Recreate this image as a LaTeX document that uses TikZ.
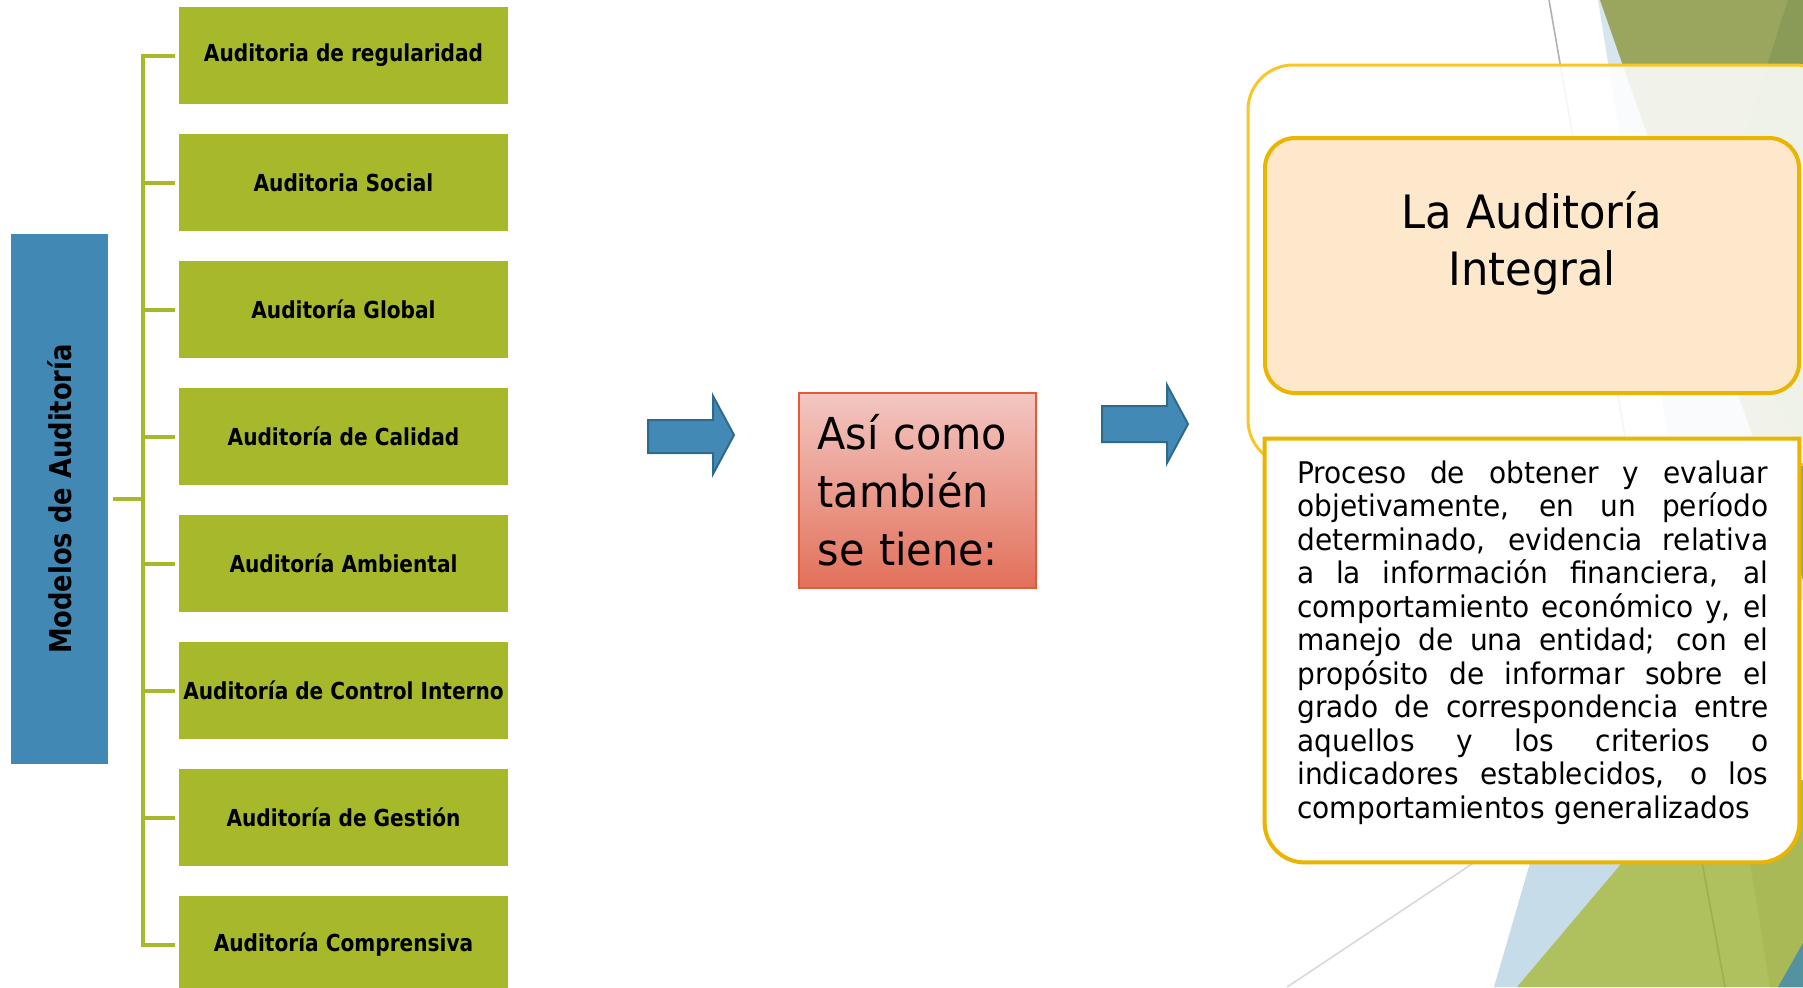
\documentclass[tikz,border=0pt]{standalone}
\usepackage{fontspec}
\setmainfont{DejaVu Sans}[FakeStretch=0.94]
\newfontfamily\labelfont{DejaVu Sans}[FakeStretch=0.86]
\usepackage{graphicx}
\usepackage{tikz}
\usetikzlibrary{positioning}

\definecolor{modgreen}{RGB}{167,184,42}
\definecolor{modblue}{RGB}{65,137,180}
\definecolor{arrowblue}{RGB}{66,138,181}
\definecolor{arrowedge}{RGB}{46,106,142}
\definecolor{midtop}{RGB}{243,199,194}
\definecolor{midbottom}{RGB}{226,112,90}
\definecolor{midedge}{RGB}{228,90,52}
\definecolor{peach}{RGB}{253,232,203}
\definecolor{gold}{RGB}{235,180,0}
\definecolor{framegold}{RGB}{247,199,40}
\definecolor{facetblue}{RGB}{214,229,238}
\definecolor{facetolive}{RGB}{154,165,94}
\definecolor{facetdark}{RGB}{138,155,87}
\definecolor{facetblue2}{RGB}{198,220,232}
\definecolor{facetlime}{RGB}{175,192,94}
\definecolor{facetlime2}{RGB}{168,185,85}
\definecolor{facetline}{RGB}{157,174,78}
\definecolor{facetteal}{RGB}{85,146,160}

\newcommand{\fullline}[1]{\makebox[235.5pt][s]{\spaceskip=0.25em plus 1fil\relax#1}}

\begin{document}
\begin{tikzpicture}[x=0.5pt,y=-0.5pt,
	modbox/.style={rectangle, fill=modgreen, minimum width=164.5pt, minimum height=48.5pt,
	               inner sep=0pt, font=\labelfont\fontsize{11.7}{14}\selectfont\bfseries},
	bracket/.style={draw=modgreen, line width=2pt},
	blockarrow/.style={fill=arrowblue, draw=arrowedge, line width=1pt}]

	\fill[white] (0,0) rectangle (1803,987);
	\useasboundingbox (0,0) rectangle (1803,987);
	\clip (0,0) rectangle (1803,987);

	% facets of the slide background
	\fill[facetblue] (1598,0) -- (1803,0) -- (1803,600) -- (1694,600) -- cycle;
	\fill[facetolive] (1600,0) -- (1803,0) -- (1803,580) -- cycle;
	\fill[facetdark] (1788,0) -- (1803,0) -- (1803,450) -- (1700,275) -- cycle;
	\draw[black!30, line width=0.8pt] (1549,0) -- (1630,465);
	\fill[facetblue2] (1554,780) -- (1803,780) -- (1803,987) -- (1494,987) -- cycle;
	\fill[facetlime] (1692,780) -- (1803,780) -- (1803,987) -- (1517,987) -- cycle;
	\fill[facetlime2] (1737,780) -- (1803,780) -- (1803,987) -- (1770,987) -- cycle;
	\draw[facetline, line width=0.75pt] (1687,780) -- (1725,987);
	\fill[facetteal] (1803,943) -- (1803,987) -- (1778,987) -- cycle;
	\draw[black!15, line width=0.8pt] (1598,780) -- (1287,987);

	\node[fill=modblue, minimum width=48.5pt, minimum height=265pt, inner sep=0pt,
	      font=\labelfont\fontsize{15}{17}\selectfont\bfseries] (models) at (59.5,499)
	      {\rotatebox{90}{Modelos de Auditoría}};

	\foreach \name [count=\i from 0] in {Auditoria de regularidad, Auditoria Social,
	    Auditoría Global, Auditoría de Calidad, Auditoría Ambiental,
	    Auditoría de Control Interno, Auditoría de Gestión, Auditoría Comprensiva}
	    {\node[modbox] (m\i) at (343.5,55.5+127*\i) {\name};}

	\coordinate (root) at (143,499);
	\draw[bracket] ([xshift=2.5pt]models.east) -- (root);
	\foreach \i in {0,...,7} {\draw[bracket] (root) |- ([xshift=-2pt]m\i.west);}

	\draw[blockarrow] (648,420) -- (713,420) -- (713,396) -- (734,435) -- (713,474)
	    -- (713,453) -- (648,453) -- cycle;

	\node[draw=midedge, line width=1pt, top color=midtop, bottom color=midbottom,
	      minimum width=118.5pt, minimum height=97.5pt, text width=100pt,
	      inner xsep=9.25pt, align=left, font=\fontsize{22}{29}\selectfont] (mid)
	      at (917.5,490.5) {Así como\\también\\se tiene:};

	\draw[blockarrow] (1102,406) -- (1167,406) -- (1167,385) -- (1188,424) -- (1167,463)
	    -- (1167,442) -- (1102,442) -- cycle;

	\node[draw=framegold, line width=1.5pt, fill=white, fill opacity=0.87,
	      rounded corners=22.5pt, minimum width=296pt, minimum height=200pt] (frame)
	      at (1544,265) {};
	\node[draw=gold, line width=2pt, fill=peach, rounded corners=15pt,
	      minimum width=267pt, minimum height=127.5pt] (title) at (1532,265.5) {};
	\node[align=center, inner sep=0pt, font=\fontsize{23}{28.5}\selectfont] (titletext)
	      at (1532,243) {La Auditoría\\Integral};

	\node[minimum width=267pt, minimum height=211.5pt, inner sep=0pt] (desc) at (1532,650.5) {};
	\draw[draw=gold, line width=2pt, fill=white] (desc.west) -- (desc.north west)
	    -- (desc.north east) -- (desc.east) [rounded corners=20pt] -- (desc.south east)
	    -- (desc.south west) -- cycle;
	\node[anchor=north west, inner sep=0pt, text width=235.5pt, align=left,
	      font=\fontsize{14.9}{16.75}\selectfont] (desctext) at (1297,460) {%
	    \fullline{Proceso de obtener y evaluar}\\
	    \fullline{objetivamente, en un período}\\
	    \fullline{determinado, evidencia relativa}\\
	    \fullline{a la información financiera, al}\\
	    \fullline{comportamiento económico y, el}\\
	    \fullline{manejo de una entidad; con el}\\
	    \fullline{propósito de informar sobre el}\\
	    \fullline{grado de correspondencia entre}\\
	    \fullline{aquellos y los criterios o}\\
	    \fullline{indicadores establecidos, o los}\\
	    comportamientos generalizados};
\end{tikzpicture}
\end{document}
